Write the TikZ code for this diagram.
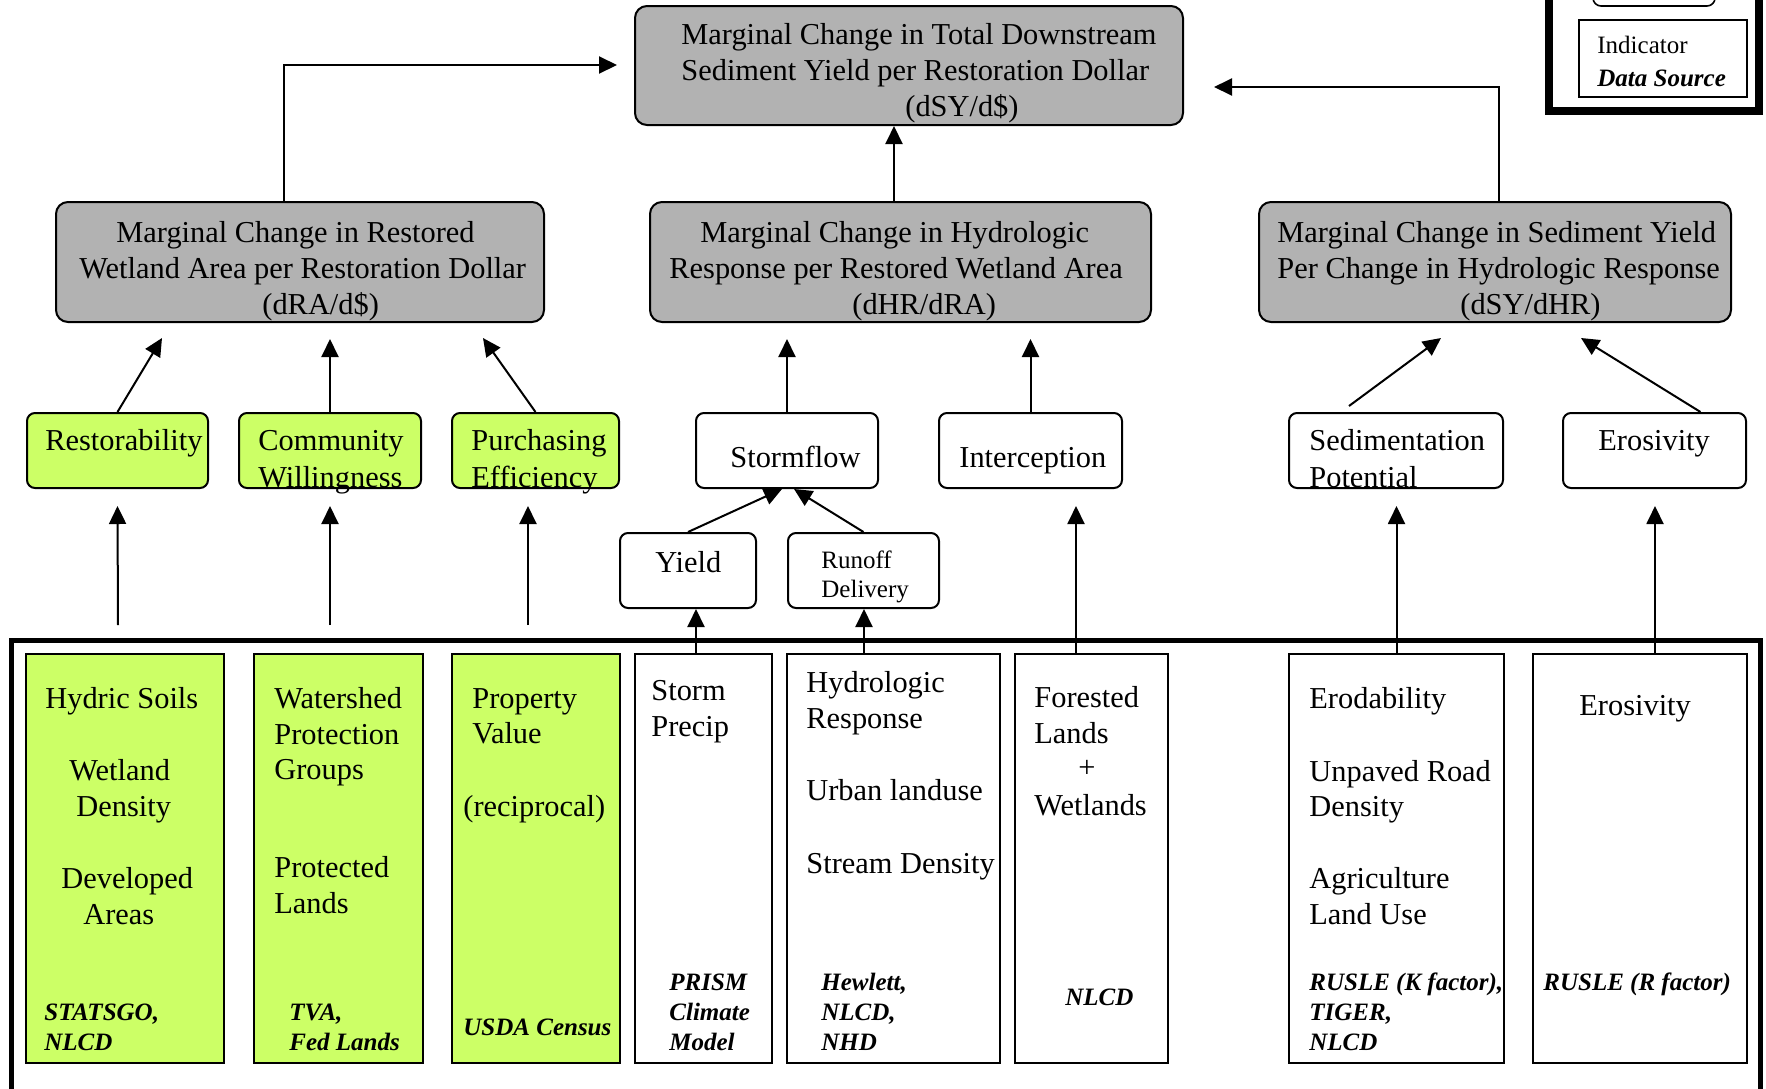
\documentclass[tikz,border=0pt]{standalone}
\usepackage{fontspec}
\setmainfont{Liberation Serif}
\usetikzlibrary{arrows.meta,fit}
\definecolor{boxgray}{RGB}{178,178,178}
\definecolor{lgreen}{RGB}{204,255,102}
\newcommand\mymainsz{\fontsize{15.2pt}{18pt}\selectfont}
\newcommand\mysmallsz{\fontsize{12.5pt}{15pt}\selectfont}
\newcommand\mysrcsz{\fontsize{12.5pt}{15pt}\selectfont\bfseries\itshape}
\tikzset{
  graybox/.style={draw, line width=1pt, fill=boxgray, rounded corners=6pt, inner sep=0pt},
  greenrbox/.style={draw, line width=1pt, fill=lgreen, rounded corners=4pt, inner sep=0pt},
  whiterbox/.style={draw, line width=1pt, fill=white, rounded corners=4pt, inner sep=0pt},
  greencol/.style={draw, line width=0.9pt, fill=lgreen, inner sep=0pt},
  whitecol/.style={draw, line width=0.9pt, fill=white, inner sep=0pt},
  txt/.style={anchor=base west, inner sep=0pt, font=\mymainsz},
  stxt/.style={anchor=base west, inner sep=0pt, font=\mysmallsz},
  src/.style={anchor=base west, inner sep=0pt, font=\mysrcsz},
  arr/.style={line width=1pt, -{Triangle[length=9pt,width=8.5pt]}},
}
\begin{document}
\begin{tikzpicture}[x=0.5pt,y=-0.5pt]
\useasboundingbox (0,0) rectangle (1766,1088);

% outer frames
\draw[line width=2.5pt] (11,1110) -- (11,640) -- (1760,640) -- (1760,1110);
\draw[line width=4pt, fill=white] (1549,-20) -- (1549,111) -- (1759,111) -- (1759,-20);

% legend
\node[whiterbox, line width=0.8pt, fit={(1593,-30) (1715,6)}] (legA) {};
\node[whitecol, line width=0.8pt, fit={(1579,20) (1747,97)}] (legB) {};
\node[stxt] (legB1) at (1597,53) {Indicator};
\node[src] (legB2) at (1597,86) {Data Source};

% level 1 and 2 gray boxes
\node[graybox, fit={(635,6) (1183,125)}] (T) {};
\node[graybox, fit={(56,202) (544,322)}] (L) {};
\node[graybox, fit={(650,202) (1151,322)}] (M) {};
\node[graybox, fit={(1259,202) (1731,322)}] (R) {};

\node[txt] (T1) at (681,44) {Marginal Change in Total Downstream};
\node[txt] (T2) at (681,80) {Sediment Yield per Restoration Dollar};
\node[txt] (T3) at (905,116) {(dSY/d\$)};

\node[txt] (L1) at (116,242) {Marginal Change in Restored};
\node[txt] (L2) at (79,278) {Wetland Area per Restoration Dollar};
\node[txt] (L3) at (262,314) {(dRA/d\$)};

\node[txt] (M1) at (700,242) {Marginal Change in Hydrologic};
\node[txt] (M2) at (669,278) {Response per Restored Wetland Area};
\node[txt] (M3) at (852,314) {(dHR/dRA)};

\node[txt] (R1) at (1277,242) {Marginal Change in Sediment Yield};
\node[txt] (R2) at (1277,278) {Per Change in Hydrologic Response};
\node[txt] (R3) at (1460,314) {(dSY/dHR)};

% row 2
\node[greenrbox, fit={(27,413) (208,488)}] (rest) {};
\node[greenrbox, fit={(239,413) (421,488)}] (comm) {};
\node[greenrbox, fit={(452,413) (619,488)}] (purch) {};
\node[whiterbox, fit={(696,413) (878,488)}] (storm) {};
\node[whiterbox, fit={(939,413) (1122,488)}] (inter) {};
\node[whiterbox, fit={(1289,413) (1503,488)}] (sedim) {};
\node[whiterbox, fit={(1563,413) (1746,488)}] (eros) {};
\node[whiterbox, fit={(620,533) (756,608)}] (yield) {};
\node[whiterbox, fit={(788,533) (939,608)}] (runoff) {};

\node[txt] (restT) at (45,450) {Restorability};
\node[txt] (commT1) at (258,450) {Community};
\node[txt] (commT2) at (258,487) {Willingness};
\node[txt] (purchT1) at (471,450) {Purchasing};
\node[txt] (purchT2) at (471,487) {Efficiency};
\node[txt] (stormT) at (730,467) {Stormflow};
\node[txt] (interT) at (959,467) {Interception};
\node[txt] (sedimT1) at (1309,450) {Sedimentation};
\node[txt] (sedimT2) at (1309,487) {Potential};
\node[txt] (erosT) at (1598,450) {Erosivity};
\node[txt] (yieldT) at (655,572) {Yield};
\node[stxt] (runoffT1) at (821,568) {Runoff};
\node[stxt] (runoffT2) at (821,597) {Delivery};

% bottom columns
\node[greencol, fit={(26,654) (224,1063)}] (b1) {};
\node[greencol, fit={(254,654) (423,1063)}] (b2) {};
\node[greencol, fit={(452,654) (620,1063)}] (b3) {};
\node[whitecol, fit={(635,654) (772,1063)}] (b4) {};
\node[whitecol, fit={(787,654) (1000,1063)}] (b5) {};
\node[whitecol, fit={(1015,654) (1168,1063)}] (b6) {};
\node[whitecol, fit={(1289,654) (1504,1063)}] (b7) {};
\node[whitecol, fit={(1533,654) (1747,1063)}] (b8) {};

\node[txt] (b1a) at (45,708) {Hydric Soils};
\node[txt] (b1b) at (69,780) {Wetland};
\node[txt] (b1c) at (76,816) {Density};
\node[txt] (b1d) at (61,888) {Developed};
\node[txt] (b1e) at (83,924) {Areas};
\node[src] (b1f) at (44,1020) {STATSGO,};
\node[src] (b1g) at (44,1050) {NLCD};

\node[txt] (b2a) at (274,708) {Watershed};
\node[txt] (b2b) at (274,744) {Protection};
\node[txt] (b2c) at (274,779) {Groups};
\node[txt] (b2d) at (274,877) {Protected};
\node[txt] (b2e) at (274,913) {Lands};
\node[src] (b2f) at (289,1020) {TVA,};
\node[src] (b2g) at (289,1050) {Fed Lands};

\node[txt] (b3a) at (472,708) {Property};
\node[txt] (b3b) at (472,743) {Value};
\node[txt] (b3c) at (463,816) {(reciprocal)};
\node[src] (b3d) at (463,1035) {USDA Census};

\node[txt] (b4a) at (651,700) {Storm};
\node[txt] (b4b) at (651,736) {Precip};
\node[src] (b4c) at (669,990) {PRISM};
\node[src] (b4d) at (669,1020) {Climate};
\node[src] (b4e) at (669,1050) {Model};

\node[txt] (b5a) at (806,692) {Hydrologic};
\node[txt] (b5b) at (806,728) {Response};
\node[txt] (b5c) at (806,800) {Urban landuse};
\node[txt] (b5d) at (806,873) {Stream Density};
\node[src] (b5e) at (821,990) {Hewlett,};
\node[src] (b5f) at (821,1020) {NLCD,};
\node[src] (b5g) at (821,1050) {NHD};

\node[txt] (b6a) at (1034,707) {Forested};
\node[txt] (b6b) at (1034,743) {Lands};
\node[txt, anchor=base] (b6c) at (1087,777) {+};
\node[txt] (b6d) at (1034,815) {Wetlands};
\node[src] (b6e) at (1065,1005) {NLCD};

\node[txt] (b7a) at (1309,708) {Erodability};
\node[txt] (b7b) at (1309,781) {Unpaved Road};
\node[txt] (b7c) at (1309,816) {Density};
\node[txt] (b7d) at (1309,888) {Agriculture};
\node[txt] (b7e) at (1309,924) {Land Use};
\node[src] (b7f) at (1309,990) {RUSLE (K factor),};
\node[src] (b7g) at (1309,1020) {TIGER,};
\node[src] (b7h) at (1309,1050) {NLCD};

\node[txt] (b8a) at (1579,715) {Erosivity};
\node[src] (b8b) at (1543,990) {RUSLE (R factor)};

% connector end points
\coordinate (tL) at (617,65);
\coordinate (tR) at (1214,87);
\coordinate (eRest) at (162,338);
\coordinate (ePurch) at (483,338);
\coordinate (eSedim) at (1441,338);
\coordinate (eEros) at (1581,338);
\coordinate (eY) at (782,489);
\coordinate (eRo) at (794,489);
\coordinate (s1) at (118,625);
\coordinate (s2) at (330,625);
\coordinate (s3) at (528,625);

% level 2 -> top
\draw[arr] ([xshift=-8pt]L.north) |- (tL);
\draw[arr] ([xshift=-3.25pt]M.north) -- ([xshift=-3.25pt]M.north |- T.south);
\draw[arr] ([xshift=2pt]R.north) |- (tR);

% row 2 -> level 2
\draw[arr] (rest.north) -- (eRest);
\draw[arr] (comm.north) -- ([yshift=-8pt]L.south -| comm.north);
\draw[arr] (purch.north) -- (ePurch);
\draw[arr] (storm.north) -- ([yshift=-8pt]M.south -| storm.north);
\draw[arr] (inter.north) -- ([yshift=-8pt]M.south -| inter.north);
\draw[arr] ([xshift=-23.5pt,yshift=3pt]sedim.north) -- (eSedim);
\draw[arr] ([xshift=23pt]eros.north) -- (eEros);

% row 3 -> stormflow
\draw[arr] (yield.north) -- (eY);
\draw[arr] (runoff.north) -- (eRo);

% bottom -> row 2
\draw[arr] (s1) -- ([yshift=-8.5pt]rest.south);
\draw[arr] (s2) -- ([yshift=-8.5pt]comm.south);
\draw[arr] (s3) -- ([xshift=-3.75pt,yshift=-8.5pt]purch.south);
\draw[arr] ([xshift=-3.75pt]b4.north) -- ([xshift=-3.75pt]b4.north |- yield.south);
\draw[arr] ([xshift=-14.75pt]b5.north) -- ([xshift=-14.75pt]b5.north |- runoff.south);
\draw[arr] ([xshift=-7.75pt]b6.north) -- ([xshift=-7.75pt,yshift=-8.5pt]b6.north |- inter.south);
\draw[arr] (b7.north) -- ([yshift=-8.5pt]b7.north |- sedim.south);
\draw[arr] ([xshift=7.5pt]b8.north) -- ([xshift=7.5pt,yshift=-8.5pt]b8.north |- eros.south);
\end{tikzpicture}
\end{document}
